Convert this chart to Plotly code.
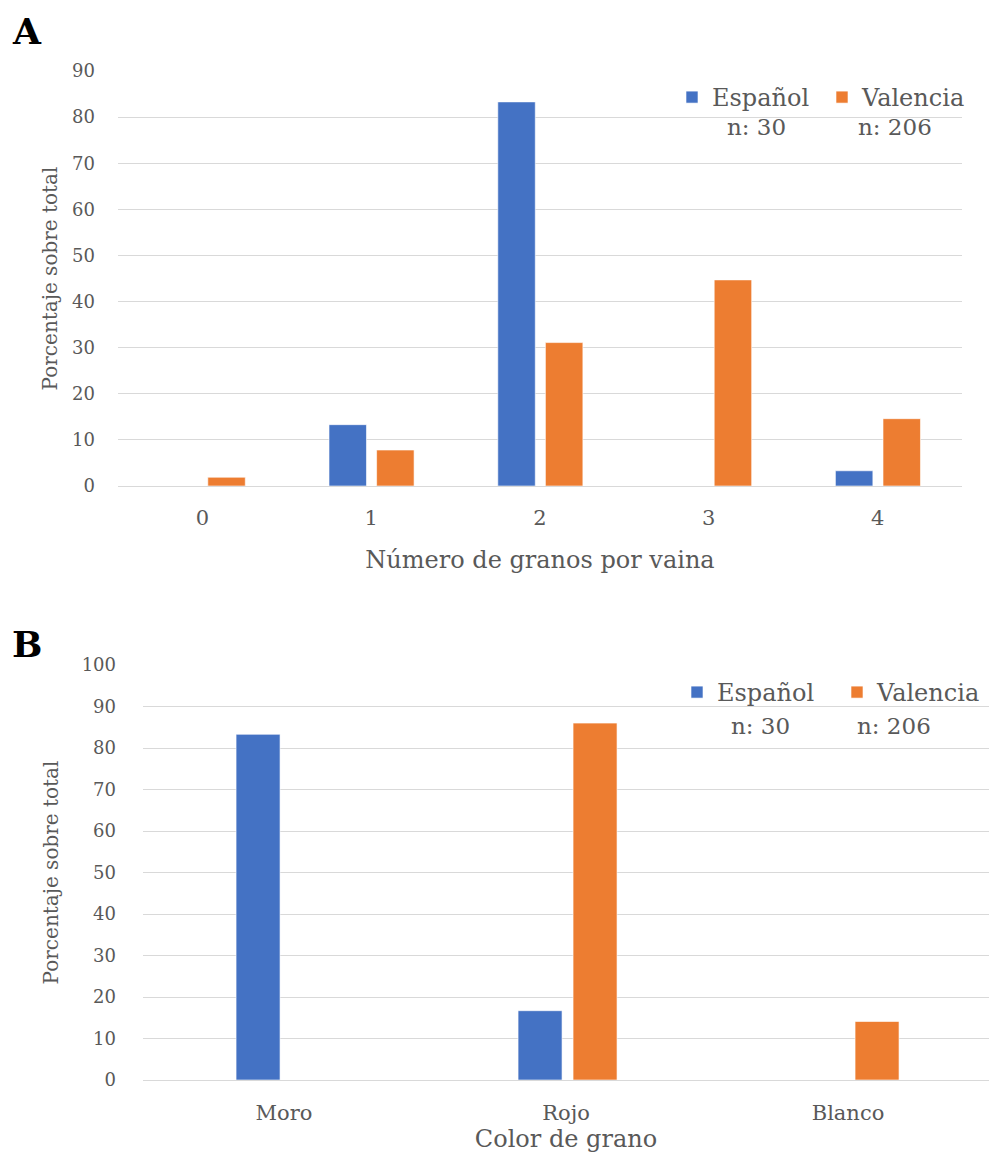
import plotly.graph_objects as go

# Panel A: number of grains per pod
granos_cats = ["0", "1", "2", "3", "4"]
espanol_granos = [0.0, 13.3, 83.3, 0.0, 3.3]
valencia_granos = [1.9, 7.8, 31.1, 44.7, 14.6]

# Panel B: grain colour
color_cats = ["Moro", "Rojo", "Blanco"]
espanol_color = [83.3, 16.7, 0.0]
valencia_color = [0.0, 86.0, 14.1]

series_names = ["Español", "Valencia"]
n_samples = [30, 206]

BLUE = "#4472C4"
ORANGE = "#ED7D31"
GRID = "#D9D9D9"
TXT = "#595959"
FONT = "DejaVu Serif"
EDGE = "rgba(255,255,255,0.6)"

W, H = 989, 1156

fig = go.Figure()

# panel A bars
fig.add_trace(go.Bar(x=granos_cats, y=espanol_granos, name=series_names[0],
                     marker=dict(color=BLUE, line=dict(color=EDGE, width=1)),
                     width=0.222, offset=-0.25, xaxis="x", yaxis="y", legend="legend"))
fig.add_trace(go.Bar(x=granos_cats, y=valencia_granos, name=series_names[1],
                     marker=dict(color=ORANGE, line=dict(color=EDGE, width=1)),
                     width=0.222, offset=0.032, xaxis="x", yaxis="y", legend="legend"))

# panel B bars
fig.add_trace(go.Bar(x=color_cats, y=espanol_color, name=series_names[0],
                     marker=dict(color=BLUE, line=dict(color=EDGE, width=1)),
                     width=0.156, offset=-0.17, xaxis="x2", yaxis="y2", legend="legend2"))
fig.add_trace(go.Bar(x=color_cats, y=valencia_color, name=series_names[1],
                     marker=dict(color=ORANGE, line=dict(color=EDGE, width=1)),
                     width=0.156, offset=0.025, xaxis="x2", yaxis="y2", legend="legend2"))


def px_x(v):
    return v / W


def px_y(v):
    return 1 - v / H


xtick = dict(family=FONT, size=21, color=TXT)
ytick = dict(family=FONT, size=18, color=TXT)
ytitle = dict(family=FONT, size=20, color=TXT)
xtitle = dict(family=FONT, size=24, color=TXT)
legfont = dict(family=FONT, size=24, color=TXT)
nfont = dict(family=FONT, size=23, color=TXT)

fig.update_layout(
    width=W, height=H, margin=dict(l=0, r=0, t=0, b=0, autoexpand=False),
    paper_bgcolor="white", plot_bgcolor="white",
    barmode="overlay",
    font=dict(family=FONT, color=TXT),
    xaxis=dict(domain=[px_x(118), px_x(962)], anchor="y", showgrid=False, showline=False, ticks="",
               tickfont=xtick, ticklabelstandoff=17,
               title=dict(text="Número de granos por vaina", standoff=22, font=xtitle)),
    yaxis=dict(domain=[px_y(486), px_y(71)], anchor="x", range=[0, 90], dtick=10,
               gridcolor=GRID, gridwidth=1, zeroline=True, zerolinecolor=GRID, zerolinewidth=1,
               showline=False, ticks="", tickfont=ytick, ticklabelstandoff=22,
               title=dict(text="Porcentaje sobre total", standoff=9, font=ytitle)),
    xaxis2=dict(domain=[px_x(143), 1.0], anchor="y2", showgrid=False, showline=False, ticks="",
                tickfont=xtick, ticklabelstandoff=18,
                title=dict(text="Color de grano", standoff=4, font=xtitle)),
    yaxis2=dict(domain=[px_y(1080), px_y(665)], anchor="x2", range=[0, 100], dtick=10,
                gridcolor=GRID, gridwidth=1, zeroline=True, zerolinecolor=GRID, zerolinewidth=1,
                showline=False, ticks="", tickfont=ytick, ticklabelstandoff=26,
                title=dict(text="Porcentaje sobre total", standoff=17, font=ytitle)),
    legend=dict(orientation="h", x=px_x(672), y=px_y(75), xanchor="left", yanchor="top",
                bgcolor="rgba(0,0,0,0)", font=legfont,
                itemwidth=30, entrywidthmode="pixels", entrywidth=105, tracegroupgap=0),
    legend2=dict(orientation="h", x=px_x(677), y=px_y(670), xanchor="left", yanchor="top",
                 bgcolor="rgba(0,0,0,0)", font=legfont,
                 itemwidth=30, entrywidthmode="pixels", entrywidth=115, tracegroupgap=0),
)

# sample sizes under the legend entries
for xc, yc, n in [(756, 127, n_samples[0]), (895, 127, n_samples[1]),
                  (760, 726, n_samples[0]), (894, 726, n_samples[1])]:
    fig.add_annotation(text=f"n: {n}", x=px_x(xc), y=px_y(yc), xref="paper", yref="paper",
                       xanchor="center", yanchor="middle", showarrow=False, font=nfont)

# panel letters
fig.add_annotation(text="<b>A</b>", x=px_x(10), y=px_y(31), xref="paper", yref="paper",
                   xanchor="left", yanchor="middle", showarrow=False,
                   font=dict(family=FONT, size=36, color="black"))
fig.add_annotation(text="<b>B</b>", x=px_x(10), y=px_y(644), xref="paper", yref="paper",
                   xanchor="left", yanchor="middle", showarrow=False,
                   font=dict(family=FONT, size=36, color="black"))

fig.write_html("out.html")
